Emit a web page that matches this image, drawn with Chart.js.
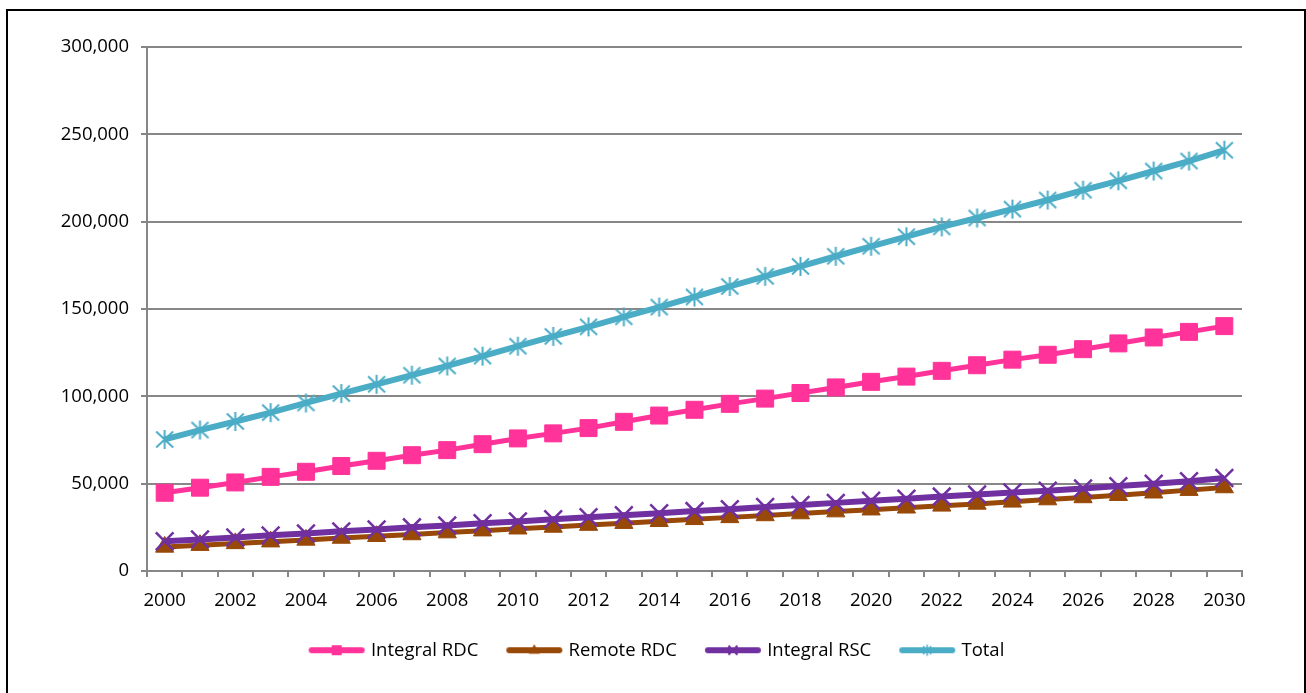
<!DOCTYPE html>
<html>
<head>
<meta charset="utf-8">
<script src="https://cdn.jsdelivr.net/npm/chart.js@4.4.1/dist/chart.umd.min.js"></script>
<style>
  html, body { margin: 0; padding: 0; background: #ffffff; }
  #wrap { position: relative; width: 1306px; height: 693px; }
</style>
</head>
<body>
<div id="wrap"><canvas id="chart" width="1306" height="693"></canvas></div>
<script>
// Years on the category axis
const years = ['2000','2001','2002','2003','2004','2005','2006','2007','2008','2009','2010',
               '2011','2012','2013','2014','2015','2016','2017','2018','2019','2020',
               '2021','2022','2023','2024','2025','2026','2027','2028','2029','2030'];

// Series values
const integralRDC = [44800, 47700, 50700, 53900, 56800, 60100, 63100, 66300, 69200, 72600, 75900,
                     78800, 81800, 85400, 89000, 92300, 95700, 98700, 101900, 105100, 108300,
                     111300, 114600, 117800, 121000, 123800, 127000, 130300, 133700, 136900, 140200];
const remoteRDC   = [13800, 14800, 15800, 16800, 17800, 18900, 19900, 20900, 22000, 23100, 24200,
                     25200, 26300, 27400, 28500, 29600, 30700, 31800, 32900, 34000, 35100,
                     36200, 37300, 38400, 39600, 40900, 42100, 43400, 44800, 46300, 47800];
const integralRSC = [17000, 18100, 19200, 20400, 21500, 22700, 23800, 25000, 26100, 27300, 28400,
                     29600, 30800, 31900, 33100, 34300, 35400, 36600, 37800, 39000, 40200,
                     41400, 42600, 43800, 44900, 46000, 47300, 48600, 50000, 51400, 53200];
const total       = [75300, 80700, 85600, 90700, 96200, 101600, 106900, 112100, 117400, 123000, 128700,
                     134300, 139800, 145500, 151100, 156900, 162900, 168700, 174400, 180200, 185900,
                     191400, 197000, 202100, 207200, 212400, 218000, 223400, 229000, 234700, 240900];

const seriesNames = ['Integral RDC', 'Remote RDC', 'Integral RSC', 'Total'];

// Y axis range
const yMin = 0, yMax = 300000, yStep = 50000;

const COLORS = {
  pink: '#FF3399',
  brown: '#984807',
  purple: '#7030A0',
  teal: '#4BACC6',
  grid: '#878787'
};
const FONT = '"Open Sans", Lato, sans-serif';
const FONT_SIZE = 18.5;

// Asterisk marker (vertical bar plus an X)
function asteriskCanvas(color, hx, hy, hv, lw) {
  const s = Math.ceil(Math.max(hx, hv) * 2 + lw + 2);
  const c = document.createElement('canvas');
  c.width = s; c.height = s;
  const g = c.getContext('2d');
  const m = s / 2;
  g.strokeStyle = color; g.lineWidth = lw; g.lineCap = 'butt';
  g.beginPath();
  g.moveTo(m - hx, m - hy); g.lineTo(m + hx, m + hy);
  g.moveTo(m + hx, m - hy); g.lineTo(m - hx, m + hy);
  g.moveTo(m, m - hv); g.lineTo(m, m + hv);
  g.stroke();
  return c;
}

// Legend swatch: thick line segment with a small marker in the middle
function swatch(color, kind) {
  const w = 58, h = 16;
  const c = document.createElement('canvas');
  c.width = w; c.height = h;
  const g = c.getContext('2d');
  const m = h / 2, cx = w / 2;
  g.strokeStyle = color; g.fillStyle = color;
  g.lineWidth = 6; g.lineCap = 'round';
  g.beginPath(); g.moveTo(4, m); g.lineTo(w - 4, m); g.stroke();
  g.lineCap = 'butt';
  if (kind === 'square') {
    g.fillRect(cx - 5, m - 5, 10, 10);
  } else if (kind === 'triangle') {
    g.beginPath(); g.moveTo(cx, m - 6); g.lineTo(cx + 5.5, m + 3.5); g.lineTo(cx - 5.5, m + 3.5); g.closePath(); g.fill();
  } else if (kind === 'cross') {
    g.lineWidth = 2;
    g.beginPath();
    g.moveTo(cx - 4.5, m - 4.5); g.lineTo(cx + 4.5, m + 4.5);
    g.moveTo(cx + 4.5, m - 4.5); g.lineTo(cx - 4.5, m + 4.5);
    g.stroke();
  } else if (kind === 'star') {
    g.lineWidth = 1.5;
    g.beginPath();
    g.moveTo(cx - 4, m - 4); g.lineTo(cx + 4, m + 4);
    g.moveTo(cx + 4, m - 4); g.lineTo(cx - 4, m + 4);
    g.moveTo(cx, m - 5.5); g.lineTo(cx, m + 5.5);
    g.stroke();
  }
  return c;
}

const starMarker = asteriskCanvas(COLORS.teal, 8.5, 8, 9.5, 2);
const legendSwatches = [
  swatch(COLORS.pink, 'square'),
  swatch(COLORS.brown, 'triangle'),
  swatch(COLORS.purple, 'cross'),
  swatch(COLORS.teal, 'star')
];

// Outer frame around the chart
const framePlugin = {
  id: 'frame',
  afterDraw(chart) {
    const ctx = chart.ctx;
    ctx.save();
    ctx.strokeStyle = '#000';
    ctx.lineWidth = 2;
    ctx.beginPath();
    ctx.moveTo(7, 720); ctx.lineTo(7, 10); ctx.lineTo(1305, 10); ctx.lineTo(1305, 720);
    ctx.stroke();
    ctx.restore();
  }
};

const baseLine = { fill: false, tension: 0, spanGaps: true };

new Chart(document.getElementById('chart'), {
  type: 'line',
  data: {
    labels: years,
    datasets: [
      Object.assign({}, baseLine, {
        label: seriesNames[0], data: integralRDC, order: 3,
        borderColor: COLORS.pink, backgroundColor: COLORS.pink, borderWidth: 5,
        pointStyle: 'rect', pointRadius: 12, pointBorderWidth: 1,
        pointBackgroundColor: COLORS.pink, pointBorderColor: COLORS.pink
      }),
      Object.assign({}, baseLine, {
        label: seriesNames[1], data: remoteRDC, order: 2,
        borderColor: COLORS.brown, backgroundColor: COLORS.brown, borderWidth: 5,
        pointStyle: 'triangle', pointRadius: 10.5, pointBorderWidth: 1,
        pointBackgroundColor: COLORS.brown, pointBorderColor: COLORS.brown
      }),
      Object.assign({}, baseLine, {
        label: seriesNames[2], data: integralRSC, order: 1,
        borderColor: COLORS.purple, backgroundColor: COLORS.purple, borderWidth: 6,
        pointStyle: 'crossRot', pointRadius: 12.5, pointBorderWidth: 2.5,
        pointBackgroundColor: COLORS.purple, pointBorderColor: COLORS.purple
      }),
      Object.assign({}, baseLine, {
        label: seriesNames[3], data: total, order: 0,
        borderColor: COLORS.teal, backgroundColor: COLORS.teal, borderWidth: 6,
        pointStyle: starMarker, pointRadius: 10,
        pointBackgroundColor: COLORS.teal, pointBorderColor: COLORS.teal
      })
    ]
  },
  options: {
    responsive: false,
    animation: false,
    devicePixelRatio: 1,
    events: [],
    layout: { padding: { top: 47, left: 10, right: 0, bottom: 23.5 } },
    plugins: {
      tooltip: { enabled: false },
      title: { display: false },
      legend: {
        display: true,
        position: 'bottom',
        labels: {
          usePointStyle: true,
          pointStyleWidth: 50,
          padding: 31,
          color: '#000',
          font: { family: FONT, size: FONT_SIZE },
          generateLabels(chart) {
            return chart.data.datasets.map((ds, i) => ({
              text: ds.label,
              pointStyle: legendSwatches[i],
              fillStyle: 'rgba(0,0,0,0)',
              strokeStyle: 'rgba(0,0,0,0)',
              lineWidth: 0,
              hidden: false,
              datasetIndex: i,
              fontColor: '#000'
            }));
          }
        }
      }
    },
    scales: {
      x: {
        type: 'category',
        offset: true,
        grid: {
          display: true, drawOnChartArea: false, drawTicks: true,
          tickLength: 6, offset: true, color: COLORS.grid, lineWidth: 2
        },
        border: { display: true, color: COLORS.grid, width: 2 },
        ticks: {
          autoSkip: false, maxRotation: 0, minRotation: 0, padding: 13,
          color: '#000', font: { family: FONT, size: FONT_SIZE },
          callback(value, index) { return index % 2 === 0 ? years[index] : ''; }
        },
        afterFit(scale) { scale.height = 39; }
      },
      y: {
        type: 'linear',
        position: 'left',
        min: yMin, max: yMax,
        grid: { color: COLORS.grid, lineWidth: 2, tickLength: 6, drawTicks: true },
        border: { display: true, color: COLORS.grid, width: 2 },
        ticks: {
          stepSize: yStep, padding: 12, color: '#000',
          font: { family: FONT, size: FONT_SIZE },
          callback(v) { return Number(v).toLocaleString('en-US'); }
        },
        afterFit(scale) { scale.width = 137; }
      },
      yRight: {
        type: 'linear',
        position: 'right',
        display: true,
        grid: { display: false, drawTicks: false },
        border: { display: false },
        ticks: { display: false },
        afterFit(scale) { scale.width = 64; }
      }
    }
  },
  plugins: [framePlugin]
});
</script>
</body>
</html>
